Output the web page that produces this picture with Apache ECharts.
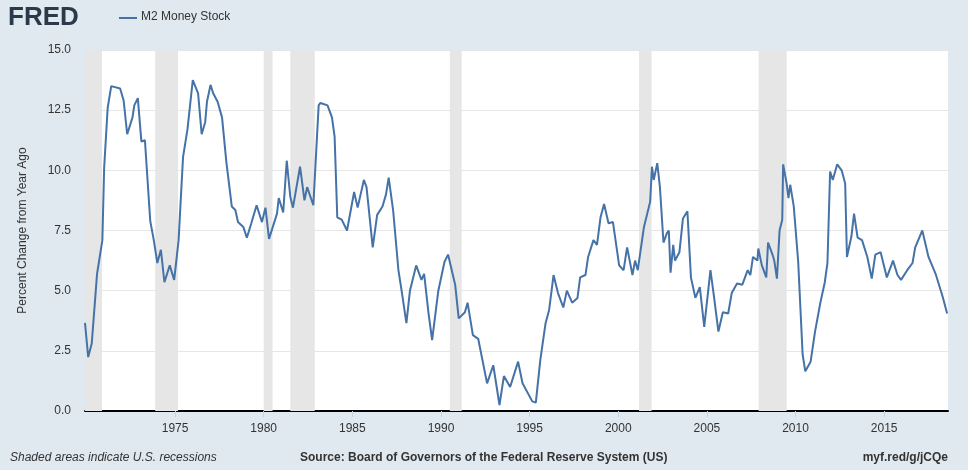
<!DOCTYPE html>
<html><head><meta charset="utf-8">
<script src="https://cdn.jsdelivr.net/npm/echarts@6/dist/echarts.min.js"></script>
<style>html,body{margin:0;padding:0;background:#e1e9f0;}#c{width:968px;height:470px;}</style>
</head><body><div id="c"></div>
<script>
const years = [1969.92,1970.1,1970.3,1970.6,1970.9,1971.0,1971.2,1971.4,1971.9,1972.1,1972.3,1972.6,1972.7,1972.9,1973.0,1973.1,1973.3,1973.6,1973.8,1974.0,1974.2,1974.4,1974.7,1974.95,1975.2,1975.45,1975.7,1976.0,1976.3,1976.5,1976.7,1976.8,1977.0,1977.15,1977.4,1977.65,1977.9,1978.2,1978.4,1978.55,1978.85,1979.05,1979.3,1979.6,1979.9,1980.1,1980.3,1980.75,1980.85,1981.1,1981.3,1981.5,1981.65,1982.05,1982.3,1982.45,1982.8,1983.1,1983.2,1983.6,1983.85,1984.0,1984.15,1984.4,1984.7,1985.1,1985.3,1985.65,1985.8,1986.15,1986.4,1986.7,1986.9,1987.05,1987.3,1987.6,1987.8,1988.05,1988.25,1988.6,1988.9,1989.05,1989.3,1989.5,1989.85,1990.2,1990.4,1990.8,1991.0,1991.35,1991.5,1991.8,1992.1,1992.6,1992.95,1993.3,1993.55,1993.9,1994.35,1994.6,1995.15,1995.35,1995.6,1995.9,1996.1,1996.35,1996.6,1996.9,1997.1,1997.4,1997.7,1997.85,1998.15,1998.3,1998.6,1998.8,1999.0,1999.2,1999.45,1999.7,2000.05,2000.3,2000.5,2000.8,2000.95,2001.1,2001.45,2001.8,2001.9,2002.0,2002.2,2002.35,2002.55,2002.75,2002.85,2002.95,2003.1,2003.2,2003.45,2003.65,2003.9,2004.1,2004.35,2004.6,2004.85,2005.2,2005.4,2005.65,2005.9,2006.2,2006.4,2006.7,2007.0,2007.3,2007.45,2007.6,2007.85,2007.9,2008.1,2008.35,2008.45,2008.7,2008.8,2008.95,2009.1,2009.25,2009.3,2009.5,2009.6,2009.7,2009.9,2010.15,2010.4,2010.55,2010.85,2011.1,2011.4,2011.65,2011.8,2011.95,2012.1,2012.35,2012.6,2012.8,2012.9,2013.15,2013.3,2013.5,2013.75,2014.05,2014.3,2014.5,2014.8,2015.15,2015.5,2015.75,2015.95,2016.3,2016.6,2016.75,2017.15,2017.5,2017.9,2018.3,2018.55];
const values = [3.66,2.24,2.8,5.7,7.1,10.1,12.6,13.5,13.4,12.9,11.5,12.2,12.7,13.0,13.0,11.2,11.25,7.9,7.1,6.15,6.7,5.35,6.05,5.45,7.1,10.55,11.7,13.75,13.2,11.5,12.0,12.85,13.55,13.2,12.85,12.2,10.3,8.5,8.35,7.85,7.65,7.2,7.8,8.55,7.85,8.45,7.15,8.2,8.85,8.25,10.4,8.9,8.45,10.15,8.75,9.3,8.55,12.7,12.8,12.7,12.2,11.4,8.05,7.95,7.5,9.1,8.45,9.6,9.3,6.8,8.15,8.5,9.0,9.7,8.35,5.85,4.9,3.65,5.0,6.05,5.45,5.7,4.05,2.95,5.0,6.2,6.5,5.25,3.85,4.1,4.5,3.15,3.0,1.15,1.9,0.25,1.45,1.0,2.05,1.15,0.4,0.35,2.1,3.65,4.2,5.65,4.9,4.3,5.0,4.5,4.7,5.55,5.65,6.4,7.1,6.9,8.05,8.6,7.8,7.85,6.05,5.85,6.8,5.65,6.25,5.85,7.65,8.7,10.15,9.6,10.3,9.3,7.0,7.4,7.5,5.75,6.9,6.25,6.6,8.0,8.3,5.55,4.7,5.15,3.5,5.85,4.75,3.3,4.1,4.05,4.9,5.3,5.25,5.85,5.65,6.4,6.25,6.75,6.05,5.55,7.0,6.5,6.25,5.5,7.5,7.95,10.25,9.45,8.85,9.4,8.5,6.2,2.35,1.65,2.05,3.3,4.5,5.35,6.15,9.95,9.6,10.25,10.0,9.45,6.4,7.25,8.2,7.2,7.1,6.4,5.5,6.5,6.6,5.55,6.25,5.65,5.45,5.85,6.15,6.8,7.5,6.4,5.7,4.75,4.05];
const recessions = [[1969.92,1970.88],[1973.88,1975.17],[1980.0,1980.5],[1981.5,1982.88],[1990.5,1991.17],[2001.17,2001.88],[2007.92,2009.5]];
const yearTicks = [1975,1980,1985,1990,1995,2000,2005,2010,2015];

const chart = echarts.init(document.getElementById('c'));
chart.setOption({
  backgroundColor:'#e1e9f0',
  animation:false,
  grid:{left:85,right:20,top:50,bottom:59,show:true,backgroundColor:'#fff',borderWidth:0},
  graphic:[
    {type:'text',left:8,top:5,style:{text:'FRED',font:'bold 26px "Liberation Sans", Arial',fill:'#2b3a4a'}},
    {type:'line',shape:{x1:119,y1:18,x2:137,y2:18},style:{stroke:'#4572a7',lineWidth:2}},
    {type:'text',left:141,top:11,style:{text:'M2 Money Stock',font:'12px "Liberation Sans", Arial',fill:'#333'}},
    {type:'text',left:10,top:452,style:{text:'Shaded areas indicate U.S. recessions',font:'italic 12px "Liberation Sans", Arial',fill:'#333'}},
    {type:'text',left:300,top:452,style:{text:'Source: Board of Governors of the Federal Reserve System (US)',font:'bold 12px "Liberation Sans", Arial',fill:'#333'}},
    {type:'text',right:20,top:452,style:{text:'myf.red/g/jCQe',font:'bold 12px "Liberation Sans", Arial',fill:'#333'}}
  ],
  xAxis:{type:'value',min:1969.92,max:2018.6,
    axisLine:{lineStyle:{color:'#000',width:2}},
    axisTick:{customValues:yearTicks,length:6,lineStyle:{color:'#c8d4e2'}},
    axisLabel:{customValues:yearTicks,formatter:v=>String(Math.round(v)),color:'#333',fontSize:12,margin:12,fontFamily:'Liberation Sans'},
    splitLine:{show:false}},
  yAxis:{type:'value',min:0,max:15,interval:2.5,
    name:'Percent Change from Year Ago',nameLocation:'middle',nameGap:56,
    nameTextStyle:{color:'#333',fontSize:12,fontFamily:'Liberation Sans'},
    axisLine:{show:false},axisTick:{show:false},
    axisLabel:{color:'#333',fontSize:12,fontFamily:'Liberation Sans',formatter:v=>v.toFixed(1),margin:14},
    splitLine:{lineStyle:{color:'#e6e6e6',width:1}}},
  series:[{type:'line',data:years.map((y,i)=>[y,values[i]]),showSymbol:false,
    lineStyle:{color:'#4572a7',width:2},itemStyle:{color:'#4572a7'},
    markArea:{silent:true,itemStyle:{color:'#e6e6e6'},data:recessions.map(r=>[{xAxis:r[0]},{xAxis:r[1]}])},
    z:3}]
});
</script></body></html>
